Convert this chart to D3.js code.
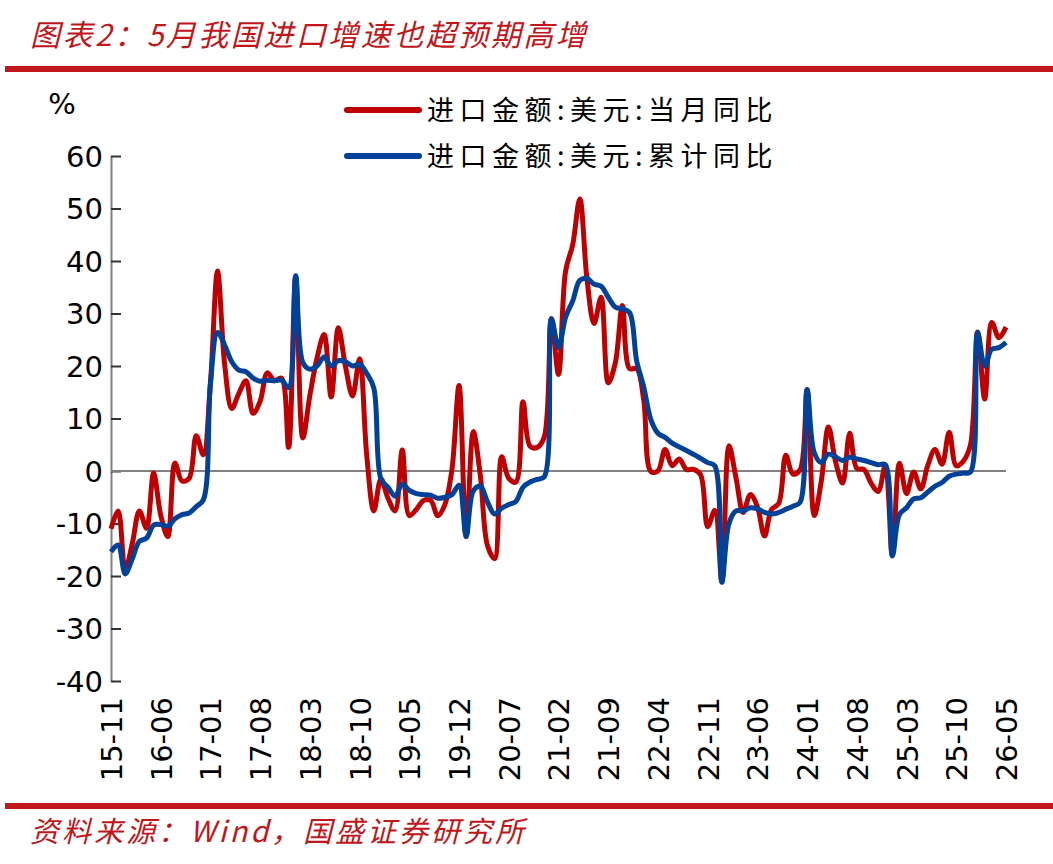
<!DOCTYPE html>
<html>
<head>
<meta charset="utf-8">
<script src="https://cdn.jsdelivr.net/npm/d3@7"></script>
<style>
  body { margin: 0; background: #fff; }
  svg { display: block; }
  .tick text { font-family: "DejaVu Sans", Verdana, sans-serif; font-size: 29px; fill: #000; }
</style>
</head>
<body>
<div id="chart"></div>
<script>
// 月份（2015-11 至 2026-05）
var months = d3.timeMonth.range(new Date(2015, 10, 1), new Date(2026, 5, 1))
    .map(d3.timeFormat('%y-%m'));

var tickLabels = ['15-11', '16-06', '17-01', '17-08', '18-03', '18-10', '19-05', '19-12', '20-07',
    '21-02', '21-09', '22-04', '22-11', '23-06', '24-01', '24-08', '25-03', '25-10', '26-05'];

var yTicks = [-40, -30, -20, -10, 0, 10, 20, 30, 40, 50, 60];

// 进口金额:美元:当月同比
var monthly = [
    -11.0, -7.6, -18.8, -13.8, -7.6, -10.9, -0.4, -8.4, -12.5, 1.5, -1.9, -1.4, 6.7, 3.1,
    16.7, 38.1, 20.3, 11.9, 14.8, 17.2, 11.0, 13.3, 18.7, 17.2, 17.7, 4.5,
    36.9, 6.3, 14.4, 21.5, 26.0, 14.1, 27.3, 20.0, 14.3, 21.4, 3.0, -7.6,
    -1.5, -5.2, -7.6, 4.0, -8.5, -7.3, -5.6, -5.6, -8.5, -6.4, 0.3, 16.3,
    -12.5, 7.5, -0.9, -14.2, -16.7, 2.7, -1.4, -2.1, 13.2, 4.7, 4.5, 6.5,
    29.0, 18.4, 38.1, 43.1, 51.8, 36.7, 28.1, 33.1, 16.8, 20.6, 31.5, 19.5,
    19.5, 13.5, -0.1, 0.0, 4.1, 1.0, 2.3, 0.3, 0.3, -0.7, -10.6, -7.5,
    -21.0, 4.8, -1.4, -7.9, -4.5, -6.8, -12.4, -7.3, -6.2, 3.0, -0.6, 0.2,
    15.5, -8.5, -1.9, 8.4, 1.8, -2.3, 7.2, 0.5, 0.3, -2.3, -3.9, 1.0,
    -16.0, 1.5, -4.3, -0.2, -3.4, 1.1, 4.1, 1.3, 7.4, 1.0, 1.9, 5.0,
    26.5, 13.7, 28.3, 25.4, 27.4
];

// 进口金额:美元:累计同比
var cumulative = [
    -15.4, -14.1, -19.6, -16.7, -13.4, -12.8, -10.3, -10.2, -10.5, -9.1, -8.3, -8.0, -6.8, -5.5,
    16.7, 26.4, 24.0, 20.8, 19.2, 18.9, 17.7, 17.1, 17.3, 17.2, 17.3, 15.9,
    37.2, 20.7, 19.4, 20.0, 21.7, 20.0, 21.0, 20.8, 20.0, 20.3, 18.6, 15.8,
    -1.5, -3.1, -4.8, -2.5, -3.7, -4.3, -4.5, -4.6, -5.2, -5.0, -4.5, -2.7,
    -12.5, -3.8, -2.9, -5.9, -8.2, -7.1, -6.4, -5.8, -3.1, -2.1, -1.6, -1.1,
    29.0, 23.5, 29.3, 32.4, 36.3, 36.7, 35.6, 35.2, 33.1, 31.2, 30.9, 30.2,
    21.0, 16.0, 9.8, 7.2, 6.4, 5.3, 4.6, 3.9, 3.2, 2.4, 1.6, 1.0,
    -21.2, -10.0, -7.6, -7.6, -7.0, -7.2, -7.9, -8.2, -7.9, -7.3, -6.7, -6.0,
    15.5, 3.5, 1.6, 3.2, 2.7, 2.0, 2.6, 2.3, 2.0, 1.6, 1.2, 1.2,
    -16.2, -8.3, -7.0, -5.3, -5.1, -4.0, -2.9, -2.2, -1.0, -0.6, -0.4, -0.2,
    26.4, 20.0, 23.2, 23.5, 24.5
];

var seriesNames = ['进口金额:美元:当月同比', '进口金额:美元:累计同比'];
var colors = ['#C00000', '#00419A'];

var w = 1053, h = 864;
var plot = { left: 111, right: 1006, top: 156, bottom: 681 };

var svg = d3.select('#chart').append('svg')
    .attr('width', w)
    .attr('height', h);

// 标题
svg.append('text')
    .attr('x', 30)
    .attr('y', 46)
    .attr('fill', '#C0161C')
    .style('font-family', '"Noto Sans CJK SC", sans-serif')
    .style('font-size', '30px')
    .style('font-style', 'italic')
    .style('letter-spacing', '2.5px')
    .text('图表2：5月我国进口增速也超预期高增');

svg.append('rect')
    .attr('x', 5).attr('y', 66)
    .attr('width', w - 5).attr('height', 6)
    .attr('fill', '#C0161C');

svg.append('rect')
    .attr('x', 5).attr('y', 803)
    .attr('width', w - 5).attr('height', 6)
    .attr('fill', '#C0161C');

svg.append('text')
    .attr('x', 30)
    .attr('y', 842)
    .attr('fill', '#C0161C')
    .style('font-family', '"Noto Sans CJK SC", sans-serif')
    .style('font-size', '29px')
    .style('font-style', 'italic')
    .style('letter-spacing', '3px')
    .text('资料来源：Wind，国盛证券研究所');

var x = d3.scalePoint()
    .domain(months)
    .range([plot.left, plot.right]);

var y = d3.scaleLinear()
    .domain([-40, 60])
    .range([plot.bottom, plot.top]);

// y 轴
var yAxis = d3.axisLeft(y)
    .tickValues(yTicks)
    .tickFormat(function(d) { return String(d); })
    .tickSizeInner(-10)
    .tickSizeOuter(0)
    .tickPadding(8);

var gy = svg.append('g')
    .attr('transform', 'translate(' + plot.left + ',0)')
    .call(yAxis);
gy.select('.domain').attr('stroke', '#808080').attr('stroke-width', 2);
gy.selectAll('.tick line').attr('stroke', '#333').attr('stroke-width', 2);
gy.selectAll('.tick text').attr('dy', '0.36em');

// x 轴标签（竖排）
var xAxis = d3.axisBottom(x)
    .tickValues(tickLabels)
    .tickSize(0)
    .tickPadding(0);

var gx = svg.append('g')
    .attr('transform', 'translate(0,' + plot.bottom + ')')
    .call(xAxis);
gx.select('.domain').remove();
gx.selectAll('.tick text')
    .attr('transform', 'rotate(-90)')
    .attr('text-anchor', 'end')
    .attr('x', -16)
    .attr('y', 0)
    .attr('dy', '0.36em');

// 零线
svg.append('line')
    .attr('x1', plot.left).attr('x2', plot.right)
    .attr('y1', y(0)).attr('y2', y(0))
    .attr('stroke', '#808080')
    .attr('stroke-width', 2);

svg.append('text')
    .attr('x', 62)
    .attr('y', 114)
    .attr('text-anchor', 'middle')
    .style('font-family', '"DejaVu Sans", Verdana, sans-serif')
    .style('font-size', '29px')
    .text('%');

var line = d3.line()
    .x(function(d, i) { return x(months[i]); })
    .y(function(d) { return y(d); })
    .curve(d3.curveCatmullRom.alpha(0.5));

[monthly, cumulative].forEach(function(s, k) {
    svg.append('path')
        .datum(s)
        .attr('fill', 'none')
        .attr('stroke', colors[k])
        .attr('stroke-width', 5)
        .attr('stroke-linejoin', 'round')
        .attr('d', line);
});

// 图例
var legend = svg.selectAll('.legend')
    .data(seriesNames)
    .enter().append('g')
    .attr('class', 'legend')
    .attr('transform', function(d, i) { return 'translate(' + [347, 110 + i * 46] + ')'; });

legend.append('line')
    .attr('x1', 0).attr('x2', 72)
    .attr('stroke', function(d, i) { return colors[i]; })
    .attr('stroke-width', 6)
    .attr('stroke-linecap', 'round');

legend.append('text')
    .attr('x', 80)
    .attr('dy', '0.36em')
    .style('font-family', '"Noto Sans CJK SC", sans-serif')
    .style('font-size', '27px')
    .style('letter-spacing', '5.5px')
    .text(function(d) { return d; });
</script>
</body>
</html>
